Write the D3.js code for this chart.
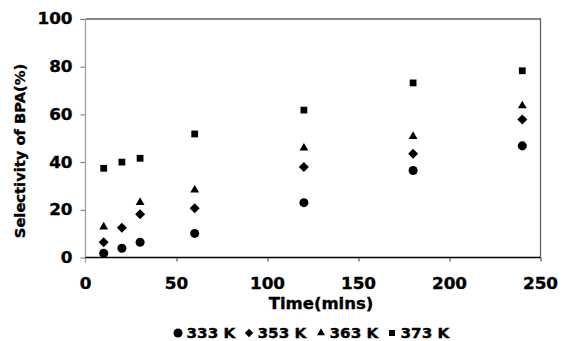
<!DOCTYPE html>
<html>
<head>
<meta charset="utf-8">
<script src="https://cdn.jsdelivr.net/npm/d3@7"></script>
<style>
  body { margin: 0; background: #fff; }
  text { font-family: "DejaVu Sans", Verdana, sans-serif; font-weight: bold; fill: #000;
         stroke: #000; stroke-width: 0.35px; }
</style>
</head>
<body>
<div id="chart"></div>
<script>
// data
const times = [10, 20, 30, 60, 120, 180, 240];
const k333 = [1.8, 3.9, 6.4, 10.1, 23.0, 36.5, 46.8];
const k353 = [6.4, 12.5, 18.1, 20.6, 37.9, 43.5, 57.9];
const k363 = [12.8, null, 23.1, 28.3, 45.9, 50.8, 63.6];
const k373 = [37.4, 40.0, 41.6, 51.8, 61.8, 73.2, 78.3];
const seriesNames = ['333 K', '353 K', '363 K', '373 K'];
const xTicks = [0, 50, 100, 150, 200, 250];
const yTicks = [0, 20, 40, 60, 80, 100];

const W = 562, H = 341;
const margin = { top: 19, right: 21.5, bottom: 83.5, left: 85.5 };
const width = W - margin.left - margin.right;
const height = H - margin.top - margin.bottom;
const stretch = 1.12;

const svg = d3.select('#chart').append('svg')
  .attr('width', W)
  .attr('height', H);

const x = d3.scaleLinear().domain([0, 250]).range([0, width]);
const y = d3.scaleLinear().domain([0, 100]).range([height, 0]);

const g = svg.append('g')
  .attr('transform', `translate(${margin.left},${margin.top})`);

// plot border (top and right)
g.append('path')
  .attr('d', `M0,0H${width}V${height}`)
  .attr('fill', 'none')
  .attr('stroke', '#606060')
  .attr('stroke-width', 1.3);

// y axis
const yAxis = g.append('g')
  .call(d3.axisLeft(y).tickValues(yTicks).tickSize(5).tickFormat(''));
yAxis.select('.domain').remove();
yAxis.selectAll('line').attr('stroke', '#707070');
g.append('line')
  .attr('x1', 0).attr('x2', 0)
  .attr('y1', 0).attr('y2', height + 5)
  .attr('stroke', '#a0a0a0').attr('stroke-width', 1.3);

yTicks.forEach(v => {
  g.append('text')
    .attr('transform', `translate(-13,${y(v)}) scale(${stretch},1)`)
    .attr('text-anchor', 'end')
    .attr('dy', '0.36em')
    .style('font-size', '15px')
    .text(v);
});

// x axis
const xAxis = g.append('g')
  .attr('transform', `translate(0,${height})`)
  .call(d3.axisBottom(x).tickValues(xTicks.slice(1)).tickSize(4).tickFormat(''));
xAxis.select('.domain').attr('stroke', '#000').attr('stroke-width', 1.3)
  .attr('d', `M0,0H${width}`);
xAxis.selectAll('line').attr('stroke', '#303030');

xTicks.forEach(v => {
  g.append('text')
    .attr('transform', `translate(${x(v)},${height + 31}) scale(${stretch},1)`)
    .attr('text-anchor', 'middle')
    .style('font-size', '15px')
    .text(v);
});

// axis titles
svg.append('text')
  .attr('transform', `translate(321,308.5) scale(1.1,1)`)
  .attr('text-anchor', 'middle')
  .style('font-size', '15px')
  .text('Time(mins)');

svg.append('text')
  .attr('transform', `translate(24.5,151) rotate(-90) scale(1.05,1)`)
  .attr('text-anchor', 'middle')
  .style('font-size', '14px')
  .text('Selectivity of BPA(%)');

// markers
const symbols = [
  d3.symbol().type(d3.symbolCircle).size(64),
  d3.symbol().type(d3.symbolSquare).size(50),
  d3.symbol().type(d3.symbolTriangle).size(34),
  d3.symbol().type(d3.symbolSquare).size(46)
];
const rotations = [0, 45, 0, 0];
const allSeries = [k333, k353, k363, k373];

allSeries.forEach((vals, i) => {
  const pts = times.map((t, j) => ({ t, v: vals[j] })).filter(d => d.v != null);
  g.selectAll(`.s${i}`)
    .data(pts)
    .enter().append('path')
    .attr('class', `s${i}`)
    .attr('d', symbols[i])
    .attr('transform', d => `translate(${x(d.t)},${y(d.v)}) rotate(${rotations[i]})`)
    .attr('fill', '#000');
});

// legend
const legendX = [178, 249, 321, 392];
const legendSymbols = [
  d3.symbol().type(d3.symbolCircle).size(64),
  d3.symbol().type(d3.symbolSquare).size(36),
  d3.symbol().type(d3.symbolTriangle).size(28),
  d3.symbol().type(d3.symbolSquare).size(36)
];
seriesNames.forEach((name, i) => {
  svg.append('path')
    .attr('d', legendSymbols[i])
    .attr('transform', `translate(${legendX[i]},333) rotate(${rotations[i]})`)
    .attr('fill', '#000');
  svg.append('text')
    .attr('transform', `translate(${legendX[i] + 8.5},338) scale(1.13,1)`)
    .style('font-size', '13.5px')
    .text(name);
});
</script>
</body>
</html>
